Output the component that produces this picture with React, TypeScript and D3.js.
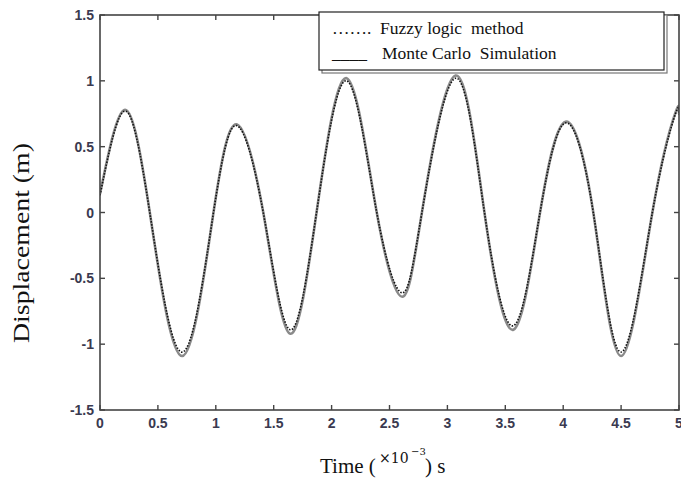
import React from "react";
import * as d3 from "d3";

const timeMs = [0, 0.216, 0.43, 0.71, 0.98, 1.18, 1.41, 1.64, 1.87, 2.13, 2.39, 2.61, 2.78, 3.07, 3.32, 3.57, 3.8, 4.02, 4.26, 4.5, 4.77, 4.97, 5.0];
const monteCarlo = [0.14, 0.78, 0, -1.09, 0, 0.67, 0, -0.92, 0, 1.02, 0, -0.64, 0, 1.04, 0, -0.89, 0, 0.69, 0, -1.09, 0, 0.76, 0.75];
const fuzzyLogic = [0.13, 0.77, 0, -1.06, 0, 0.66, 0, -0.89, 0, 1.0, 0, -0.61, 0, 1.02, 0, -0.86, 0, 0.68, 0, -1.06, 0, 0.75, 0.74];
const xTicks = [0, 0.5, 1, 1.5, 2, 2.5, 3, 3.5, 4, 4.5, 5];
const yTicks = [-1.5, -1, -0.5, 0, 0.5, 1, 1.5];
const legendLabels = ["Fuzzy logic  method", "Monte Carlo  Simulation"];

const W = 681, H = 482;
const L = 100, R = 679, T = 15, B = 410;

export default function App() {
  const x = d3.scaleLinear().domain([0, 5]).range([L, R]);
  const y = d3.scaleLinear().domain([-1.5, 1.5]).range([B, T]);
  const line = d3.line<number>()
    .x((_, i) => x(timeMs[i]))
    .y((d) => y(d))
    .curve(d3.curveNatural);
  const axisColor = "#444";
  const tickFont = { fontFamily: "Liberation Sans, Arial, sans-serif", fontSize: 14, fontWeight: "bold" as const, fill: "#3a3a50" };
  const serif = "Liberation Serif, Times New Roman, serif";
  return (
    <svg width={W} height={H} style={{ position: "absolute", left: 0, top: 0, background: "#fff" }}>
      <defs>
        <clipPath id="plot">
          <rect x={L} y={T} width={R - L} height={B - T} />
        </clipPath>
      </defs>
      <g clipPath="url(#plot)">
        <path d={line(monteCarlo) || ""} fill="none" stroke="#8a8a8a" strokeWidth={2.6} />
        <path d={line(fuzzyLogic) || ""} fill="none" stroke="#111" strokeWidth={1.6} strokeDasharray="1.5,1.5" />
      </g>
      {/* frame */}
      <rect x={L} y={T} width={R - L} height={B - T} fill="none" stroke={axisColor} strokeWidth={1.6} />
      {xTicks.map((t) => (
        <g key={"x" + t}>
          <line x1={x(t)} x2={x(t)} y1={B} y2={B - 5} stroke={axisColor} strokeWidth={1.4} />
          <line x1={x(t)} x2={x(t)} y1={T} y2={T + 5} stroke={axisColor} strokeWidth={1.4} />
          <text x={x(t)} y={B + 18} textAnchor="middle" {...tickFont}>{String(t)}</text>
        </g>
      ))}
      {yTicks.map((v) => (
        <g key={"y" + v}>
          <line x1={L} x2={L + 5} y1={y(v)} y2={y(v)} stroke={axisColor} strokeWidth={1.4} />
          <line x1={R} x2={R - 5} y1={y(v)} y2={y(v)} stroke={axisColor} strokeWidth={1.4} />
          <text x={L - 6} y={y(v) + 5} textAnchor="end" {...tickFont}>{String(v)}</text>
        </g>
      ))}
      {/* legend */}
      <rect x={322} y={15} width={345} height={58} fill="#fff" stroke="#777" strokeWidth={1.2} />
      <rect x={319} y={12} width={345} height={58} fill="#fff" stroke="#222" strokeWidth={1.2} />
      <text x={332} y={34} fontFamily={serif} fontSize={17.5} fill="#111">…….</text>
      <text x={380} y={34} fontFamily={serif} fontSize={17.5} fill="#111" style={{ whiteSpace: "pre" }}>{legendLabels[0]}</text>
      <text x={332} y={59} fontFamily={serif} fontSize={17.5} fill="#111">____</text>
      <text x={382} y={59} fontFamily={serif} fontSize={17.5} fill="#111" style={{ whiteSpace: "pre" }}>{legendLabels[1]}</text>
      {/* axis labels */}
      <text transform="translate(29,243) rotate(-90)" textAnchor="middle" fontFamily={serif} fontSize={23} textLength={200} lengthAdjust="spacingAndGlyphs" fill="#111">Displacement (m)</text>
      <text x={320} y={473} fontFamily={serif} fontSize={21} fill="#111" style={{ whiteSpace: "pre" }}>Time (</text>
      <text x={379} y={463} fontFamily="DejaVu Serif, serif" fontSize={14} fill="#111">×10</text>
      <text x={411} y={455} fontFamily="DejaVu Serif, serif" fontSize={10} fill="#111">−3</text>
      <text x={425} y={473} fontFamily={serif} fontSize={21} fill="#111" style={{ whiteSpace: "pre" }}>) s</text>
    </svg>
  );
}
